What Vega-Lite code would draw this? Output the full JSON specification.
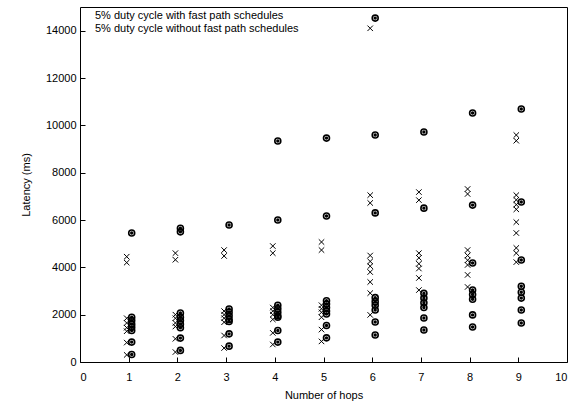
{
  "$schema": "https://vega.github.io/schema/vega-lite/v6.json",
  "width": 487,
  "height": 355,
  "autosize": {"type": "none"},
  "padding": {"left": 80, "top": 7, "right": 14, "bottom": 41},
  "background": "white",
  "config": {
    "font": "Liberation Sans",
    "view": {"stroke": "black", "strokeWidth": 1},
    "axis": {
      "grid": false, "domain": false, "ticks": true, "tickColor": "black",
      "labelFont": "Liberation Sans", "labelFontSize": 11, "labelColor": "black", "format": "d",
      "titleFont": "Liberation Sans", "titleFontSize": 11, "titleFontWeight": "normal", "titleColor": "black"
    }
  },
  "data": {"values": [
    {"hop":1,"lat":4450,"s":"A"},{"hop":1,"lat":4200,"s":"A"},{"hop":1,"lat":1850,"s":"A"},{"hop":1,"lat":1650,"s":"A"},{"hop":1,"lat":1450,"s":"A"},{"hop":1,"lat":1300,"s":"A"},{"hop":1,"lat":820,"s":"A"},{"hop":1,"lat":300,"s":"A"},
    {"hop":2,"lat":4600,"s":"A"},{"hop":2,"lat":4320,"s":"A"},{"hop":2,"lat":2000,"s":"A"},{"hop":2,"lat":1850,"s":"A"},{"hop":2,"lat":1650,"s":"A"},{"hop":2,"lat":1500,"s":"A"},{"hop":2,"lat":980,"s":"A"},{"hop":2,"lat":420,"s":"A"},
    {"hop":3,"lat":4730,"s":"A"},{"hop":3,"lat":4480,"s":"A"},{"hop":3,"lat":2150,"s":"A"},{"hop":3,"lat":2000,"s":"A"},{"hop":3,"lat":1850,"s":"A"},{"hop":3,"lat":1680,"s":"A"},{"hop":3,"lat":1120,"s":"A"},{"hop":3,"lat":590,"s":"A"},
    {"hop":4,"lat":4900,"s":"A"},{"hop":4,"lat":4600,"s":"A"},{"hop":4,"lat":2300,"s":"A"},{"hop":4,"lat":2150,"s":"A"},{"hop":4,"lat":2000,"s":"A"},{"hop":4,"lat":1800,"s":"A"},{"hop":4,"lat":1230,"s":"A"},{"hop":4,"lat":740,"s":"A"},
    {"hop":5,"lat":5070,"s":"A"},{"hop":5,"lat":4730,"s":"A"},{"hop":5,"lat":2400,"s":"A"},{"hop":5,"lat":2250,"s":"A"},{"hop":5,"lat":2100,"s":"A"},{"hop":5,"lat":1890,"s":"A"},{"hop":5,"lat":1370,"s":"A"},{"hop":5,"lat":870,"s":"A"},
    {"hop":6,"lat":14100,"s":"A"},{"hop":6,"lat":7050,"s":"A"},{"hop":6,"lat":6720,"s":"A"},{"hop":6,"lat":4500,"s":"A"},{"hop":6,"lat":4250,"s":"A"},{"hop":6,"lat":4050,"s":"A"},{"hop":6,"lat":3800,"s":"A"},{"hop":6,"lat":3380,"s":"A"},{"hop":6,"lat":2910,"s":"A"},{"hop":6,"lat":1990,"s":"A"},
    {"hop":7,"lat":7180,"s":"A"},{"hop":7,"lat":6840,"s":"A"},{"hop":7,"lat":4600,"s":"A"},{"hop":7,"lat":4400,"s":"A"},{"hop":7,"lat":4150,"s":"A"},{"hop":7,"lat":3950,"s":"A"},{"hop":7,"lat":3550,"s":"A"},{"hop":7,"lat":3040,"s":"A"},
    {"hop":8,"lat":7310,"s":"A"},{"hop":8,"lat":7100,"s":"A"},{"hop":8,"lat":4730,"s":"A"},{"hop":8,"lat":4500,"s":"A"},{"hop":8,"lat":4300,"s":"A"},{"hop":8,"lat":4100,"s":"A"},{"hop":8,"lat":3680,"s":"A"},{"hop":8,"lat":3170,"s":"A"},
    {"hop":9,"lat":9590,"s":"A"},{"hop":9,"lat":9350,"s":"A"},{"hop":9,"lat":7050,"s":"A"},{"hop":9,"lat":6850,"s":"A"},{"hop":9,"lat":6650,"s":"A"},{"hop":9,"lat":6450,"s":"A"},{"hop":9,"lat":5910,"s":"A"},{"hop":9,"lat":5450,"s":"A"},{"hop":9,"lat":4820,"s":"A"},{"hop":9,"lat":4600,"s":"A"},{"hop":9,"lat":4220,"s":"A"},
    {"hop":1,"lat":5450,"s":"B"},{"hop":1,"lat":1890,"s":"B"},{"hop":1,"lat":1750,"s":"B"},{"hop":1,"lat":1600,"s":"B"},{"hop":1,"lat":1470,"s":"B"},{"hop":1,"lat":1330,"s":"B"},{"hop":1,"lat":840,"s":"B"},{"hop":1,"lat":320,"s":"B"},
    {"hop":2,"lat":5650,"s":"B"},{"hop":2,"lat":5500,"s":"B"},{"hop":2,"lat":2070,"s":"B"},{"hop":2,"lat":1890,"s":"B"},{"hop":2,"lat":1750,"s":"B"},{"hop":2,"lat":1600,"s":"B"},{"hop":2,"lat":1450,"s":"B"},{"hop":2,"lat":1010,"s":"B"},{"hop":2,"lat":490,"s":"B"},
    {"hop":3,"lat":5790,"s":"B"},{"hop":3,"lat":2240,"s":"B"},{"hop":3,"lat":2100,"s":"B"},{"hop":3,"lat":1950,"s":"B"},{"hop":3,"lat":1800,"s":"B"},{"hop":3,"lat":1710,"s":"B"},{"hop":3,"lat":1190,"s":"B"},{"hop":3,"lat":670,"s":"B"},
    {"hop":4,"lat":9340,"s":"B"},{"hop":4,"lat":6000,"s":"B"},{"hop":4,"lat":2400,"s":"B"},{"hop":4,"lat":2250,"s":"B"},{"hop":4,"lat":2100,"s":"B"},{"hop":4,"lat":1950,"s":"B"},{"hop":4,"lat":1890,"s":"B"},{"hop":4,"lat":1330,"s":"B"},{"hop":4,"lat":840,"s":"B"},
    {"hop":5,"lat":9460,"s":"B"},{"hop":5,"lat":6170,"s":"B"},{"hop":5,"lat":2590,"s":"B"},{"hop":5,"lat":2450,"s":"B"},{"hop":5,"lat":2300,"s":"B"},{"hop":5,"lat":2150,"s":"B"},{"hop":5,"lat":2030,"s":"B"},{"hop":5,"lat":1540,"s":"B"},{"hop":5,"lat":1020,"s":"B"},
    {"hop":6,"lat":14530,"s":"B"},{"hop":6,"lat":9590,"s":"B"},{"hop":6,"lat":6300,"s":"B"},{"hop":6,"lat":2720,"s":"B"},{"hop":6,"lat":2550,"s":"B"},{"hop":6,"lat":2400,"s":"B"},{"hop":6,"lat":2200,"s":"B"},{"hop":6,"lat":1690,"s":"B"},{"hop":6,"lat":1140,"s":"B"},
    {"hop":7,"lat":9720,"s":"B"},{"hop":7,"lat":6500,"s":"B"},{"hop":7,"lat":2900,"s":"B"},{"hop":7,"lat":2700,"s":"B"},{"hop":7,"lat":2500,"s":"B"},{"hop":7,"lat":2300,"s":"B"},{"hop":7,"lat":1860,"s":"B"},{"hop":7,"lat":1350,"s":"B"},
    {"hop":8,"lat":10520,"s":"B"},{"hop":8,"lat":6630,"s":"B"},{"hop":8,"lat":4180,"s":"B"},{"hop":8,"lat":3040,"s":"B"},{"hop":8,"lat":2850,"s":"B"},{"hop":8,"lat":2650,"s":"B"},{"hop":8,"lat":1990,"s":"B"},{"hop":8,"lat":1480,"s":"B"},
    {"hop":9,"lat":10690,"s":"B"},{"hop":9,"lat":6760,"s":"B"},{"hop":9,"lat":4310,"s":"B"},{"hop":9,"lat":3200,"s":"B"},{"hop":9,"lat":2950,"s":"B"},{"hop":9,"lat":2700,"s":"B"},{"hop":9,"lat":2200,"s":"B"},{"hop":9,"lat":1650,"s":"B"}
  ]},
  "layer": [
    {
      "transform": [{"filter": "datum.s === 'A'"}],
      "mark": {"type": "point", "filled": false, "color": "black", "strokeWidth": 1, "size": 30, "xOffset": -2, "opacity": 1},
      "encoding": {
        "x": {"field": "hop", "type": "quantitative", "scale": {"domain": [0, 10], "nice": false, "zero": false},
              "axis": {"orient": "bottom", "title": "Number of hops", "values": [0,1,2,3,4,5,6,7,8,9,10], "tickSize": -5, "labelPadding": 14, "titlePadding": 7}},
        "y": {"field": "lat", "type": "quantitative", "scale": {"domain": [0, 15000], "nice": false},
              "axis": {"orient": "left", "title": "Latency (ms)", "values": [0,2000,4000,6000,8000,10000,12000,14000], "tickSize": -5, "labelPadding": 9, "titlePadding": 14}},
        "shape": {"field": "s", "type": "nominal",
          "scale": {"domain": ["A", "B"], "range": ["M-1,-1L1,1M-1,1L1,-1", "M-1,0A1,1,0,1,0,1,0A1,1,0,1,0,-1,0M-0.3,0A0.3,0.3,0,1,0,0.3,0A0.3,0.3,0,1,0,-0.3,0"]},
          "legend": {"orient": "none", "legendX": 4, "legendY": 3, "title": null, "symbolOpacity": 0, "symbolSize": 0, "symbolStrokeWidth": 0, "labelOffset": 0, "rowPadding": 1, "labelLimit": 0,
                     "labelFont": "Liberation Sans", "labelFontSize": 11, "labelColor": "black",
                     "labelExpr": "datum.value === 'A' ? '5% duty cycle with fast path schedules' : '5% duty cycle without fast path schedules'"}}
      }
    },
    {
      "transform": [{"filter": "datum.s === 'B'"}],
      "mark": {"type": "point", "filled": false, "color": "black", "strokeWidth": 1.6, "size": 36, "xOffset": 3, "opacity": 1},
      "encoding": {
        "x": {"field": "hop", "type": "quantitative"},
        "y": {"field": "lat", "type": "quantitative"},
        "shape": {"field": "s", "type": "nominal"}
      }
    }
  ]
}
